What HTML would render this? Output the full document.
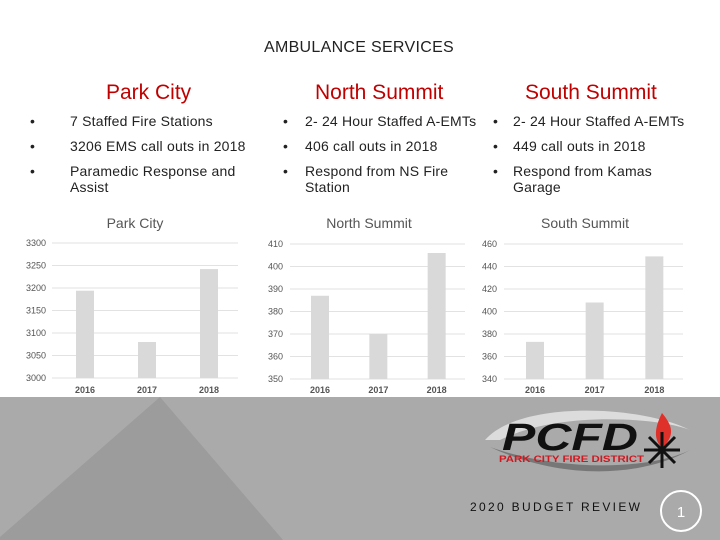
<!DOCTYPE html>
<html><head><meta charset="utf-8"><style>
body{margin:0;width:720px;height:540px;overflow:hidden;background:#fff;font-family:"Liberation Sans",sans-serif;position:relative}
.a{position:absolute}
.h{color:#c00000;font-size:21px;white-space:nowrap}
.b{font-size:14px;color:#222;line-height:16px;letter-spacing:0.2px}
</style></head><body>
<div class="a" style="left:0;width:718px;top:39px;text-align:center;font-size:16px;color:#222;letter-spacing:0.3px">AMBULANCE SERVICES</div>
<div class="a h" style="left:106px;top:81px">Park City</div>
<div class="a h" style="left:315px;top:81px">North Summit</div>
<div class="a h" style="left:525px;top:81px">South Summit</div>
<div>
<div class="a b" style="left:30px;top:113px">•</div><div class="a b" style="left:70px;top:113px">7 Staffed Fire Stations</div>
<div class="a b" style="left:30px;top:138px">•</div><div class="a b" style="left:70px;top:138px">3206 EMS call outs in 2018</div>
<div class="a b" style="left:30px;top:163px">•</div><div class="a b" style="left:70px;top:163px;width:185px">Paramedic Response and Assist</div>
</div>
<div>
<div class="a b" style="left:283px;top:113px">•</div><div class="a b" style="left:305px;top:113px;white-space:nowrap">2- 24 Hour Staffed A-EMTs</div>
<div class="a b" style="left:283px;top:138px">•</div><div class="a b" style="left:305px;top:138px">406 call outs in 2018</div>
<div class="a b" style="left:283px;top:163px">•</div><div class="a b" style="left:305px;top:163px;width:170px">Respond from NS Fire Station</div>
</div>
<div>
<div class="a b" style="left:493px;top:113px">•</div><div class="a b" style="left:513px;top:113px;white-space:nowrap">2- 24 Hour Staffed A-EMTs</div>
<div class="a b" style="left:493px;top:138px">•</div><div class="a b" style="left:513px;top:138px">449 call outs in 2018</div>
<div class="a b" style="left:493px;top:163px">•</div><div class="a b" style="left:513px;top:163px;width:170px">Respond from Kamas Garage</div>
</div>
<svg class="a" style="left:0;top:0" width="720" height="540">
<rect x="0" y="397" width="720" height="143" fill="#aaaaaa"/>
<polygon points="160,397 0,537 0,540 283,540" fill="#9c9c9c"/>
<circle cx="681" cy="511" r="20" fill="none" stroke="#fff" stroke-width="2"/>
<text x="681" y="517" text-anchor="middle" font-size="15" fill="#fff" font-family="Liberation Sans">1</text>
<text x="470" y="511" font-size="12" fill="#111" textLength="170" lengthAdjust="spacing" font-family="Liberation Sans">2020 BUDGET REVIEW</text>
<g>
<path d="M485,440 C520,400 640,405 690,430 C660,418 560,410 500,440 Z" fill="#e8e8e8" opacity="0.8"/>
<path d="M490,447 C560,480 640,478 690,450 C650,470 560,472 490,447 Z" fill="#777"/>
<text x="502" y="450" font-size="38" font-weight="bold" font-style="italic" font-family="Liberation Sans" fill="#111" textLength="136" lengthAdjust="spacingAndGlyphs">PCFD</text>
<text x="499" y="462" font-size="9" font-weight="bold" fill="#d01820" font-family="Liberation Sans" textLength="145" lengthAdjust="spacingAndGlyphs">PARK CITY FIRE DISTRICT</text>
<path d="M662,413 C672,425 676,435 662,448 C652,438 656,425 662,413 Z" fill="#e0302a"/>
<g stroke="#111" stroke-width="3"><line x1="662" y1="432" x2="662" y2="468"/><line x1="644" y1="450" x2="680" y2="450"/><line x1="649" y1="437" x2="675" y2="463"/><line x1="675" y1="437" x2="649" y2="463"/></g>
</g>
</svg>
<svg class="a" id="charts" style="left:0;top:0" width="720" height="397"></svg>
<script>
const categories=["2016","2017","2018"];
const parkValues=[3194,3080,3242];
const northValues=[387,370,406];
const southValues=[373,408,449];
const parkTicks=[3000,3050,3100,3150,3200,3250,3300];
const northTicks=[350,360,370,380,390,400,410];
const southTicks=[340,360,380,400,420,440,460];
const svg=document.getElementById('charts');
const NS='http://www.w3.org/2000/svg';
function mk(t,a){const e=document.createElementNS(NS,t);for(const k in a)e.setAttribute(k,a[k]);svg.appendChild(e);return e;}
function chart(name,title,vals,ticks,x0,x1,yTop,yBot,lblX,barX,titleX){
  const mn=ticks[0],mx=ticks[ticks.length-1];
  const y=v=>yBot-(v-mn)/(mx-mn)*(yBot-yTop);
  const t=mk('text',{x:titleX,y:228,'text-anchor':'middle','font-size':14,fill:'#555','font-family':'Liberation Sans'});t.textContent=title;
  
  ticks.forEach(v=>{
    const yy=y(v);
    const l=mk('line',{x1:x0,x2:x1,y1:yy,y2:yy,stroke:'#e2e2e2','stroke-width':1});
    
    const tx=mk('text',{x:lblX,y:yy+3,'font-size':9,fill:'#555','font-family':'Liberation Sans'});tx.textContent=v;
    
  });
  const step=(x1-x0)/categories.length;
  categories.forEach((c,i)=>{
    const cx=barX+i*step;
    const r=mk('rect',{x:cx,y:y(vals[i]),width:18,height:yBot-y(vals[i]),fill:'#d9d9d9'});
    
    const tx=mk('text',{x:cx+9,y:393,'text-anchor':'middle','font-size':9,'font-weight':'bold',fill:'#555','font-family':'Liberation Sans'});tx.textContent=c;
    
  });
}
chart('park-city','Park City',parkValues,parkTicks,52,238,243,378,26,76,135);
chart('north-summit','North Summit',northValues,northTicks,290,465,244,379,268,311,369);
chart('south-summit','South Summit',southValues,southTicks,504,683,244,379,482,526,585);
</script>
</body></html>
